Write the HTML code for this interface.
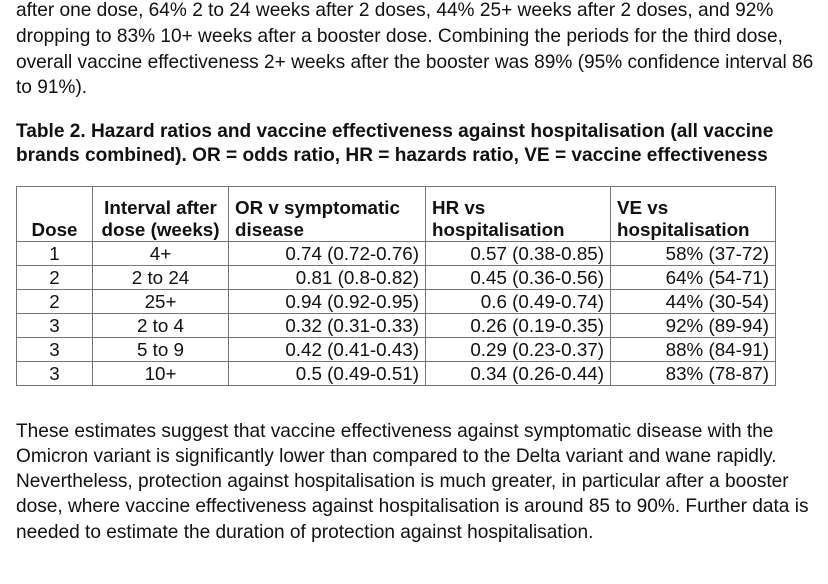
<!DOCTYPE html>
<html><head><meta charset="utf-8"><style>
body{margin:0;width:828px;height:584px;background:#fff;overflow:hidden;font-family:"Liberation Sans",Arial,sans-serif;color:#111;position:relative}
.l{position:absolute;left:16px;white-space:nowrap;font-size:19.1px;line-height:22px}
.b{font-weight:bold;font-size:19.1px}
table{position:absolute;left:16px;top:186px;border-collapse:collapse;font-size:18.8px;table-layout:fixed;width:759px}
td{border:1.5px solid #777;padding:0 6px;height:23px;line-height:22px;white-space:nowrap}
th{border:1.5px solid #777;padding:0 6px 0;text-align:left;font-weight:bold;vertical-align:bottom;line-height:22px;height:54px;white-space:nowrap}
.c{text-align:center}.r{text-align:right}
</style></head><body>
<div class="l" style="top:0">after one dose, 64% 2 to 24 weeks after 2 doses, 44% 25+ weeks after 2 doses, and 92%</div>
<div class="l" style="top:26px">dropping to 83% 10+ weeks after a booster dose. Combining the periods for the third dose,</div>
<div class="l" style="top:52px">overall vaccine effectiveness 2+ weeks after the booster was 89% (95% confidence interval 86</div>
<div class="l" style="top:77px">to 91%).</div>
<div class="l b" style="top:121px">Table 2. Hazard ratios and vaccine effectiveness against hospitalisation (all vaccine</div>
<div class="l b" style="top:145px">brands combined). OR = odds ratio, HR = hazards ratio, VE = vaccine effectiveness</div>
<table>
<colgroup><col style="width:76px"><col style="width:136px"><col style="width:197px"><col style="width:185px"><col style="width:165px"></colgroup>
<tr><th class="c">Dose</th><th class="c">Interval after<br>dose (weeks)</th><th>OR v symptomatic<br>disease</th><th>HR vs<br>hospitalisation</th><th>VE vs<br>hospitalisation</th></tr>
<tr><td class="c">1</td><td class="c">4+</td><td class="r">0.74 (0.72-0.76)</td><td class="r">0.57 (0.38-0.85)</td><td class="r">58% (37-72)</td></tr>
<tr><td class="c">2</td><td class="c">2 to 24</td><td class="r">0.81 (0.8-0.82)</td><td class="r">0.45 (0.36-0.56)</td><td class="r">64% (54-71)</td></tr>
<tr><td class="c">2</td><td class="c">25+</td><td class="r">0.94 (0.92-0.95)</td><td class="r">0.6 (0.49-0.74)</td><td class="r">44% (30-54)</td></tr>
<tr><td class="c">3</td><td class="c">2 to 4</td><td class="r">0.32 (0.31-0.33)</td><td class="r">0.26 (0.19-0.35)</td><td class="r">92% (89-94)</td></tr>
<tr><td class="c">3</td><td class="c">5 to 9</td><td class="r">0.42 (0.41-0.43)</td><td class="r">0.29 (0.23-0.37)</td><td class="r">88% (84-91)</td></tr>
<tr><td class="c">3</td><td class="c">10+</td><td class="r">0.5 (0.49-0.51)</td><td class="r">0.34 (0.26-0.44)</td><td class="r">83% (78-87)</td></tr>
</table>
<div class="l" style="top:421px">These estimates suggest that vaccine effectiveness against symptomatic disease with the</div>
<div class="l" style="top:446px">Omicron variant is significantly lower than compared to the Delta variant and wane rapidly.</div>
<div class="l" style="top:471px">Nevertheless, protection against hospitalisation is much greater, in particular after a booster</div>
<div class="l" style="top:496px">dose, where vaccine effectiveness against hospitalisation is around 85 to 90%. Further data is</div>
<div class="l" style="top:522px">needed to estimate the duration of protection against hospitalisation.</div>
</body></html>
